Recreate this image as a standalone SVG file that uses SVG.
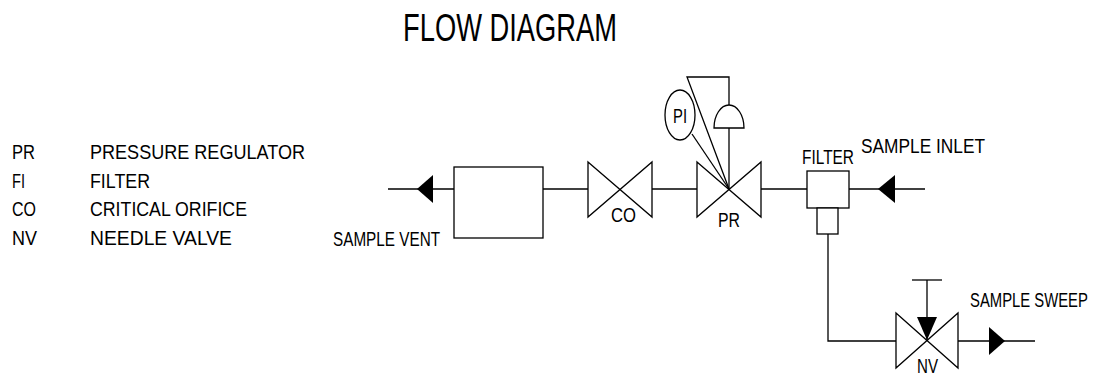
<svg xmlns="http://www.w3.org/2000/svg" width="1096" height="375" viewBox="0 0 1096 375">
<style>
.ln{fill:none;stroke:#000;stroke-width:1.3}
.sym{fill:#fff;stroke:#000;stroke-width:1.3}
.ar{fill:#000;stroke:none}
text{font-family:"Liberation Sans",Arial,sans-serif;font-size:21px;fill:#000}
.title{font-size:39px}
</style>
<rect width="1096" height="375" fill="#fff"/>
<text class="title" x="403" y="41" textLength="214" lengthAdjust="spacingAndGlyphs">FLOW DIAGRAM</text>
<g id="legend">
<text x="12" y="159" textLength="23" lengthAdjust="spacingAndGlyphs">PR</text>
<text x="90" y="159" textLength="215" lengthAdjust="spacingAndGlyphs">PRESSURE REGULATOR</text>
<text x="12" y="188" textLength="13" lengthAdjust="spacingAndGlyphs">FI</text>
<text x="90" y="188" textLength="60" lengthAdjust="spacingAndGlyphs">FILTER</text>
<text x="12" y="216" textLength="24" lengthAdjust="spacingAndGlyphs">CO</text>
<text x="90" y="216" textLength="157" lengthAdjust="spacingAndGlyphs">CRITICAL ORIFICE</text>
<text x="12" y="245" textLength="25" lengthAdjust="spacingAndGlyphs">NV</text>
<text x="90" y="245" textLength="142" lengthAdjust="spacingAndGlyphs">NEEDLE VALVE</text>
</g>
<g id="connectors">
<line class="ln" x1="388" y1="189" x2="454" y2="189"/>
<line class="ln" x1="543" y1="189" x2="588" y2="189"/>
<line class="ln" x1="652" y1="189" x2="697" y2="189"/>
<line class="ln" x1="761" y1="189" x2="807" y2="189"/>
<line class="ln" x1="849" y1="189" x2="925" y2="189"/>
<polyline class="ln" points="828,234 828,341 896,341"/>
<line class="ln" x1="958" y1="341" x2="1035" y2="341"/>
<polygon class="ar" points="417,189 433,175 433,203"/>
<polygon class="ar" points="878,189 895,175 895,203"/>
<polygon class="ar" points="1005,341 989,327 989,355"/>
</g>
<g id="vent">
<rect class="sym" x="454" y="167" width="89" height="71"/>
<text x="333" y="246" textLength="107" lengthAdjust="spacingAndGlyphs">SAMPLE VENT</text>
</g>
<g id="co">
<polygon class="sym" points="588,162 652,217 652,162 588,217"/>
<text x="611" y="222" textLength="25" lengthAdjust="spacingAndGlyphs">CO</text>
</g>
<g id="pr">
<polygon class="sym" points="697,162 761,217 761,162 697,217"/>
<line class="ln" x1="729" y1="189" x2="729" y2="128"/>
<path class="sym" d="M714,128 A15,23 0 0 1 744,128 Z"/>
<polyline class="ln" points="729,105 729,77 687,77 729,189"/>
<text x="718" y="227" textLength="22" lengthAdjust="spacingAndGlyphs">PR</text>
</g>
<g id="pi">
<line class="ln" x1="692" y1="134" x2="729" y2="189"/>
<ellipse class="sym" cx="680" cy="115" rx="15" ry="25"/>
<text x="673" y="123" textLength="14" lengthAdjust="spacingAndGlyphs">PI</text>
</g>
<g id="filter">
<rect class="sym" x="807" y="171" width="42" height="37"/>
<rect class="sym" x="817" y="208" width="21" height="26"/>
<text x="802" y="164" textLength="52" lengthAdjust="spacingAndGlyphs">FILTER</text>
<text x="861" y="153" textLength="124" lengthAdjust="spacingAndGlyphs">SAMPLE INLET</text>
</g>
<g id="nv">
<polygon class="sym" points="896,313 958,368 958,313 896,368"/>
<line class="ln" x1="927" y1="341" x2="927" y2="280"/>
<line class="ln" x1="912" y1="280" x2="942" y2="280"/>
<polygon class="ar" points="917,317 937,317 927,340"/>
<text x="917" y="373" textLength="21" lengthAdjust="spacingAndGlyphs">NV</text>
<text transform="translate(970,307) scale(0.707,1)">SAMPLE SWEEP</text>
</g>
</svg>
